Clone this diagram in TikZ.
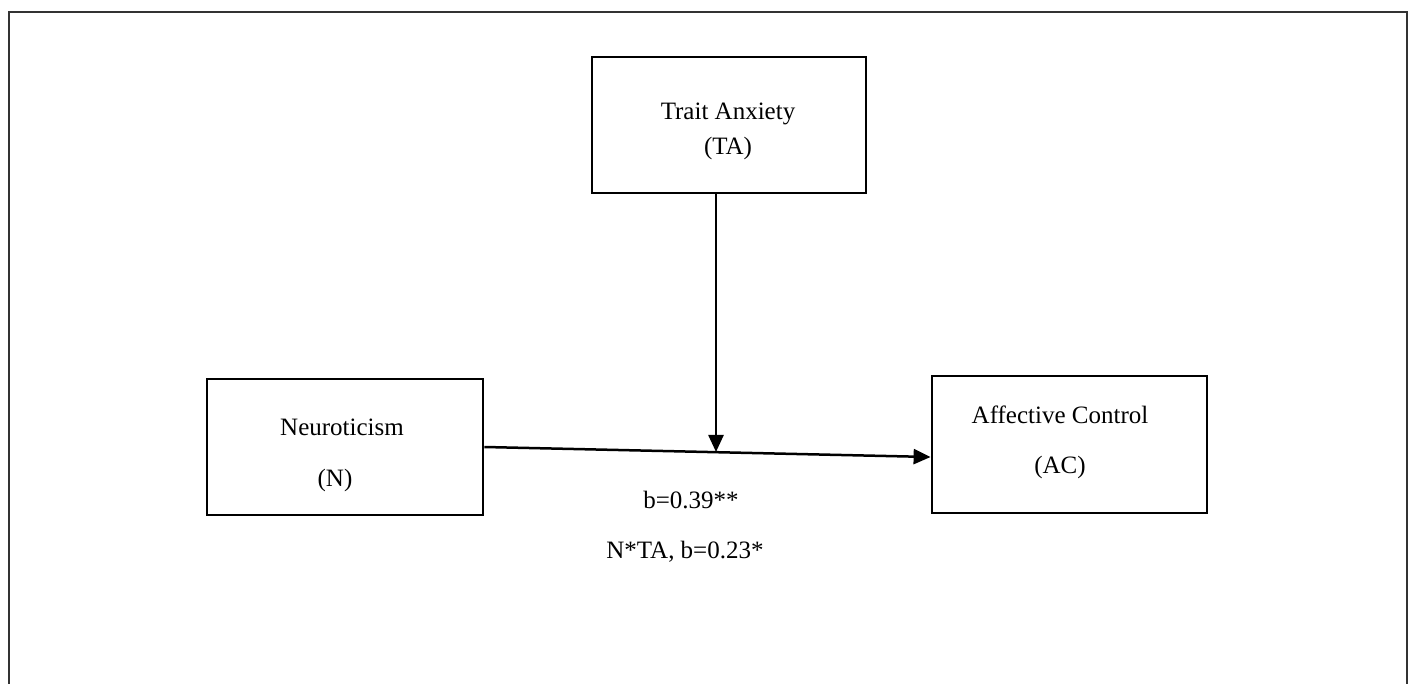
\documentclass[tikz,border=0pt]{standalone}
\usepackage{fontspec}
\setmainfont{Liberation Serif}
\usetikzlibrary{arrows.meta}
\begin{document}
\begin{tikzpicture}[x=1pt,y=-1pt,
  varbox/.style={draw=black,line width=2.8pt,rectangle,align=center,inner sep=0pt},
  conn/.style={line width=2.5pt,-{Triangle[length=17pt,width=15pt]}},
  lbl/.style={font=\fontsize{25}{28}\selectfont,inner sep=0pt}]
\useasboundingbox (0,0) rectangle (1414,684);
\draw[line width=1.8pt,draw=black!80] (9,684) -- (9,12) -- (1407,12) -- (1407,684);
\node[varbox,minimum width=274pt,minimum height=136pt] (TA) at (729,125) {};
\node[lbl] (tat) at (728,114) {Trait Anxiety};
\node[lbl] (tab) at (728,148) {(TA)};
\node[varbox,minimum width=276pt,minimum height=136pt] (N) at (345,447) {};
\node[lbl] (nt) at (342,427) {Neuroticism};
\node[lbl] (nb) at (335,480) {(N)};
\node[varbox,minimum width=275pt,minimum height=137pt] (AC) at (1069.5,444.5) {};
\node[lbl] (act) at (1060,415) {Affective Control};
\node[lbl] (acb) at (1060,467) {(AC)};
\coordinate (m) at (716,452);
\draw[conn] (N.east) -- ([yshift=-12.5pt]AC.west);
\draw[conn] ([xshift=-13pt]TA.south) -- (m);
\node[lbl] (b1) at (691,500) {b=0.39**};
\node[lbl] (b2) at (685,552) {N*TA, b=0.23*};
\end{tikzpicture}
\end{document}
